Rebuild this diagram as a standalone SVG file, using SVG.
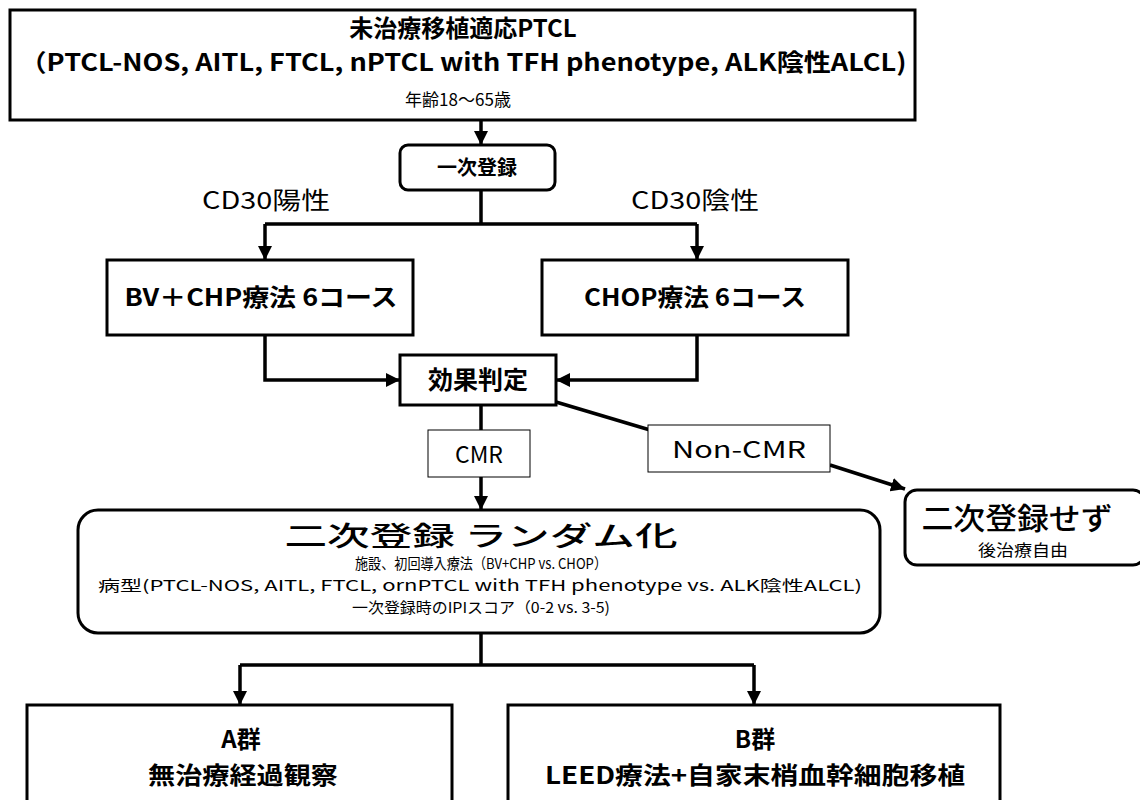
<svg xmlns="http://www.w3.org/2000/svg" width="1140" height="800" viewBox="0 0 1140 800">
<defs>
<marker id="ah" viewBox="0 0 10 10" refX="10" refY="5" markerWidth="4" markerHeight="4" orient="auto" markerUnits="strokeWidth">
<path d="M0,0 L10,5 L0,10 Z" fill="#000"/>
</marker>
<style>
.box{fill:#fff;stroke:#000;stroke-width:3}
.lbl{fill:#fff;stroke:#000;stroke-width:1}
.c{fill:none;stroke:#000;stroke-width:3.5;marker-end:url(#ah)}
.l{fill:none;stroke:#000;stroke-width:3.5}
text{font-family:"Noto Sans CJK JP","Noto Sans",sans-serif;fill:#000;text-anchor:middle}
.b{font-weight:bold}
.m{font-weight:500}
</style>
</defs>
<rect width="1140" height="800" fill="#fff"/>
<g id="connectors">
<path class="c" d="M481,120 V145"/>
<path class="l" d="M481,190 V224 M265,224 H697"/>
<path class="c" d="M265,224 V260"/>
<path class="c" d="M697,224 V260"/>
<path class="c" d="M265,335 V380 H400"/>
<path class="c" d="M697,335 V380 H556"/>
<path class="l" d="M481,405 V430"/>
<path class="c" d="M481,477 V510"/>
<path class="l" d="M556,402 L650,430"/>
<path class="c" d="M830,465 L905,489"/>
<path class="l" d="M481,633 V665 M240,665 H754"/>
<path class="c" d="M240,665 V705"/>
<path class="c" d="M754,665 V705"/>
</g>
<g id="n-top">
<rect class="box" x="10" y="10" width="905" height="110"/>
<text class="b" x="463" y="37" font-size="24">未治療移植適応PTCL</text>
<text class="b" x="463" y="71" font-size="24" textLength="887" lengthAdjust="spacingAndGlyphs">（PTCL-NOS, AITL, FTCL, nPTCL with TFH phenotype, ALK陰性ALCL)</text>
<text x="458" y="106" font-size="17" textLength="106" lengthAdjust="spacingAndGlyphs">年齢18～65歳</text>
</g>
<g id="n-reg1">
<rect class="box" x="400" y="145" width="155" height="45" rx="8"/>
<text class="b" x="477" y="175" font-size="20">一次登録</text>
</g>
<text x="266" y="209" font-size="24" textLength="128" lengthAdjust="spacingAndGlyphs">CD30陽性</text>
<text x="695" y="209" font-size="24" textLength="128" lengthAdjust="spacingAndGlyphs">CD30陰性</text>
<g id="n-bv">
<rect class="box" x="107" y="260" width="306" height="75"/>
<text class="b" x="261" y="306" font-size="24" textLength="273" lengthAdjust="spacingAndGlyphs">BV＋CHP療法 6コース</text>
</g>
<g id="n-chop">
<rect class="box" x="542" y="260" width="306" height="75"/>
<text class="b" x="695" y="306" font-size="24" textLength="222" lengthAdjust="spacingAndGlyphs">CHOP療法 6コース</text>
</g>
<g id="n-eval">
<rect class="box" x="400" y="355" width="156" height="50"/>
<text class="b" x="478" y="389" font-size="25">効果判定</text>
</g>
<g id="n-cmr">
<rect class="lbl" x="428" y="430" width="102" height="47"/>
<text x="479" y="463" font-size="23">CMR</text>
</g>
<g id="n-noncmr">
<rect class="lbl" x="648" y="425" width="182" height="47"/>
<text x="739" y="458" font-size="23" textLength="134" lengthAdjust="spacingAndGlyphs">Non-CMR</text>
</g>
<g id="n-rand">
<rect class="box" x="78" y="510" width="802" height="123" rx="20"/>
<text class="m" x="481" y="546" font-size="27" textLength="393" lengthAdjust="spacingAndGlyphs">二次登録 ランダム化</text>
<text x="481" y="569" font-size="15" textLength="252" lengthAdjust="spacingAndGlyphs">施設、初回導入療法（BV+CHP vs. CHOP）</text>
<text x="480" y="591" font-size="15" textLength="764" lengthAdjust="spacingAndGlyphs">病型(PTCL-NOS, AITL, FTCL, ornPTCL with TFH phenotype vs. ALK陰性ALCL)</text>
<text x="481" y="613" font-size="15" textLength="258" lengthAdjust="spacingAndGlyphs">一次登録時のIPIスコア（0-2 vs. 3-5)</text>
</g>
<g id="n-noreg">
<rect class="box" x="905" y="490" width="240" height="75" rx="12"/>
<text class="m" x="1017" y="529" font-size="30" textLength="191" lengthAdjust="spacingAndGlyphs">二次登録せず</text>
<text x="1023" y="556" font-size="16" textLength="90" lengthAdjust="spacingAndGlyphs">後治療自由</text>
</g>
<g id="n-a">
<rect class="box" x="27" y="705" width="425" height="110"/>
<text class="b" x="241" y="748" font-size="24">A群</text>
<text class="b" x="243" y="784" font-size="24" textLength="190" lengthAdjust="spacingAndGlyphs">無治療経過観察</text>
</g>
<g id="n-b">
<rect class="box" x="508" y="705" width="492" height="110"/>
<text class="b" x="755" y="748" font-size="24">B群</text>
<text class="b" x="755" y="784" font-size="24" textLength="420" lengthAdjust="spacingAndGlyphs">LEED療法+自家末梢血幹細胞移植</text>
</g>
</svg>
